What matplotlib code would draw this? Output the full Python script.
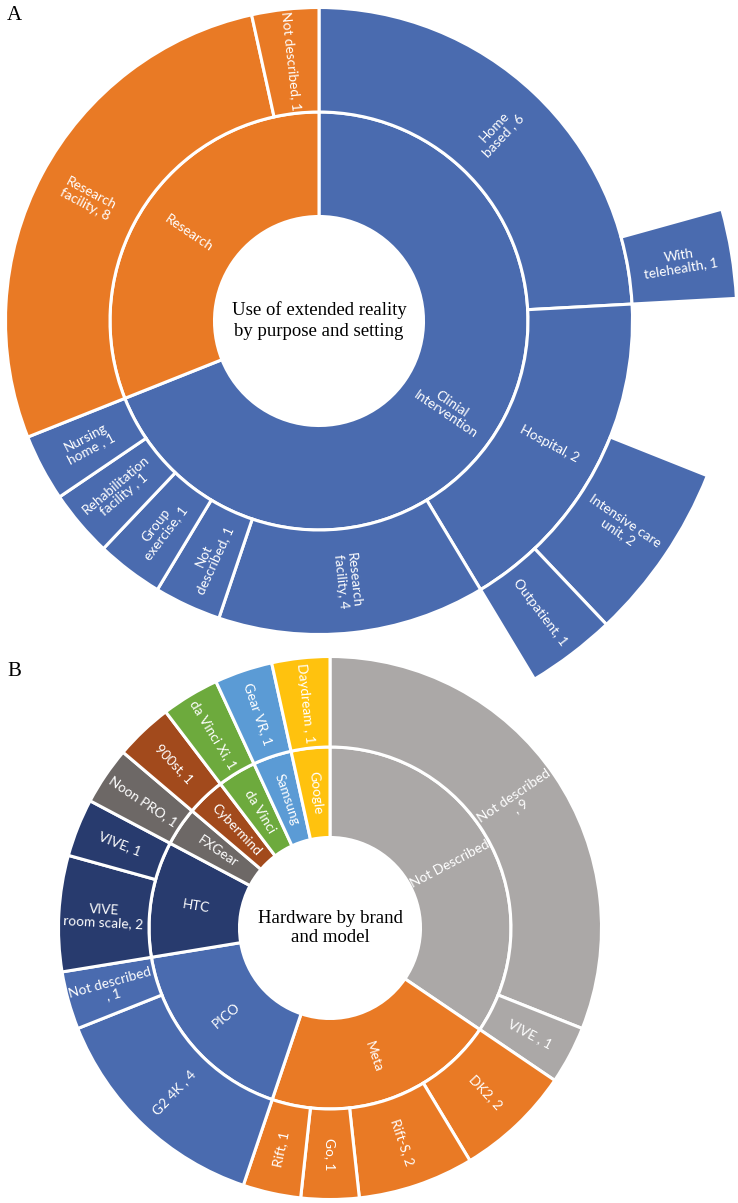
import numpy as np
import pandas as pd
from matplotlib import pyplot as plt

# A: use of extended reality by purpose and setting (one row per leaf)
purpose = ['Clinial\nIntervention'] * 10 + ['Research'] * 2
setting = ['Home\nbased , 6', 'Home\nbased , 6',
           'Hospital, 2', 'Hospital, 2', 'Hospital, 2',
           'Research\nfacility, 4', 'Not\ndescribed, 1', 'Group\nexercise, 1',
           'Rehabilitation\nfacility , 1', 'Nursing\nhome , 1',
           'Research\nfacility, 8', 'Not described, 1']
detail = ['', 'With\ntelehealth, 1', '', 'Intensive care\nunit, 2', 'Outpatient, 1',
          '', '', '', '', '', '', '']
studies = [6, 1, 2, 2, 1, 4, 1, 1, 1, 1, 8, 1]
purpose_colors = {'Clinial\nIntervention': '#4a6baf', 'Research': '#e97a25'}

# B: hardware by brand and model
brand = ['Not Described'] * 2 + ['Meta'] * 4 + ['PICO'] * 2 + ['HTC'] * 2 + \
        ['FXGear', 'Cybermind', 'da Vinci', 'Samsung', 'Google']
model = ['Not described\n, 9', 'VIVE , 1', 'DK2, 2', 'Rift-S, 2', 'Go, 1', 'Rift, 1',
         'G2 4K , 4', 'Not described\n, 1', 'VIVE\nroom scale, 2', 'VIVE, 1',
         'Noon PRO, 1', '900st, 1', 'da Vinci Xi, 1', 'Gear VR, 1', 'Daydream , 1']
devices = [9, 1, 2, 2, 1, 1, 4, 1, 2, 1, 1, 1, 1, 1, 1]
brand_colors = {'Not Described': '#aba8a7', 'Meta': '#e97a25', 'PICO': '#4a6baf',
                'HTC': '#283b6e', 'FXGear': '#6d6866', 'Cybermind': '#a24a1c',
                'da Vinci': '#6daa3d', 'Samsung': '#5b9bd5', 'Google': '#ffc20e'}

W, H = 738, 1203
fig = plt.figure(figsize=(W / 100, H / 100), dpi=100)


def polar_axes(cx, cy, unit, rmax):
    # cx, cy in pixels from top-left, unit = pixels per ring
    r = unit * rmax
    ax = fig.add_axes([(cx - r) / W, 1 - (cy + r) / H, 2 * r / W, 2 * r / H], projection='polar')
    ax.set_theta_zero_location('N')
    ax.set_theta_direction(-1)
    ax.set_ylim(0, rmax)
    ax.set_axis_off()
    return ax


def sunburst(ax, df, levels, color_key, colors, title, spacing):
    total = df['n'].sum()
    scale = 2 * np.pi / total
    for depth in range(len(levels)):
        grp = df.groupby(levels[:depth + 1], sort=False)['n'].sum().reset_index()
        start = grp['n'].cumsum() - grp['n']
        for (_, row), s in zip(grp.iterrows(), start):
            label = row[levels[depth]]
            if label == '':
                continue
            ax.bar(s * scale, 1, width=row['n'] * scale, bottom=depth + 1, align='edge',
                   color=colors[row[color_key]], edgecolor='white', linewidth=2.2,
                   clip_on=False)
            mid = (s + row['n'] / 2) * 360 / total
            rot = 90 - mid if mid <= 180 else 270 - mid
            ax.text(np.deg2rad(mid), depth + 1.5, label, rotation=rot, rotation_mode='anchor',
                    ha='center', va='center', color='white', fontsize=9.8,
                    family='Lato', linespacing=1.05)
    ax.text(0.5, 0.5, title, transform=ax.transAxes, ha='center', va='center',
            family='Liberation Serif', fontsize=13.5, linespacing=spacing)


df_a = pd.DataFrame({'purpose': purpose, 'setting': setting, 'detail': detail, 'n': studies})
ax_a = polar_axes(319, 321, 104.5, 4)
sunburst(ax_a, df_a, ['purpose', 'setting', 'detail'], 'purpose', purpose_colors,
         'Use of extended reality\nby purpose and setting', 1.3)

df_b = pd.DataFrame({'brand': brand, 'model': model, 'n': devices})
ax_b = polar_axes(330, 928, 90.5, 3)
sunburst(ax_b, df_b, ['brand', 'model'], 'brand', brand_colors,
         'Hardware by brand\nand model', 1.2)

fig.text(14 / W, 1 - 15 / H, 'A', ha='center', va='center', family='Liberation Serif', fontsize=15)
fig.text(14 / W, 1 - 672 / H, 'B', ha='center', va='center', family='Liberation Serif', fontsize=15)

fig.savefig('out.png', dpi=100, facecolor='white')
